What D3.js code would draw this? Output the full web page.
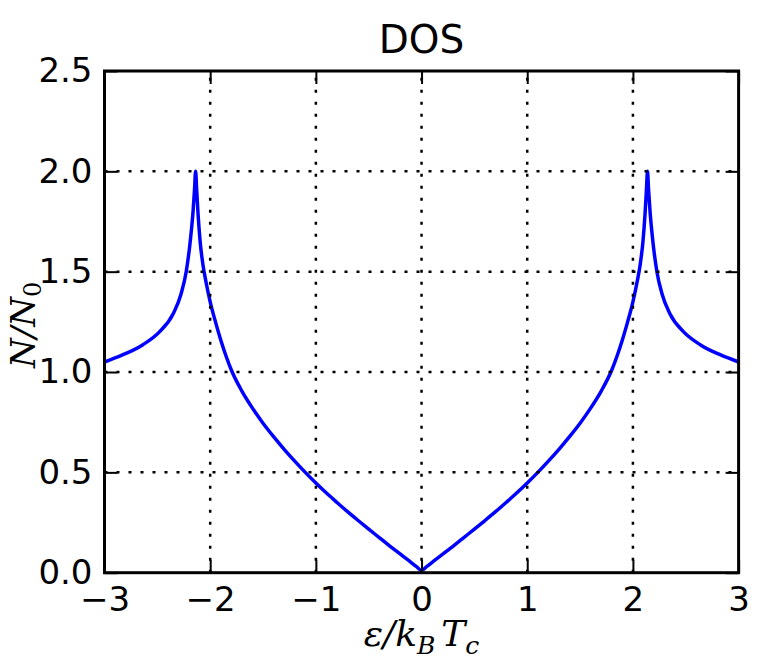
<!DOCTYPE html>
<html><head><meta charset="utf-8">
<script src="https://cdn.jsdelivr.net/npm/d3@7"></script>
<style>body{margin:0;background:#fff}</style>
</head><body>
<svg id="c" width="759" height="664"></svg>
<script>
const chartTitle = "DOS";
const xTicks = [-3, -2, -1, 0, 1, 2, 3];
const yTicks = [0, 0.5, 1.0, 1.5, 2.0, 2.5];
// energy in units of k_B T_c
const energy = [-3.0, -2.83, -2.64, -2.48, -2.35, -2.275, -2.227, -2.19, -2.162, -2.148, -2.138, -2.128, -2.115, -2.095, -2.07, -2.04, -2.0, -1.95, -1.9, -1.85, -1.8, -1.7, -1.6, -1.5, -1.4, -1.3, -1.2, -1.1, -1.0, -0.9, -0.8, -0.7, -0.6, -0.5, -0.4, -0.3, -0.2, -0.1, -0.05, 0.0,
  0.05, 0.1, 0.2, 0.3, 0.4, 0.5, 0.6, 0.7, 0.8, 0.9, 1.0, 1.1, 1.2, 1.3, 1.4, 1.5, 1.6, 1.7, 1.8, 1.85, 1.9, 1.95, 2.0, 2.04, 2.07, 2.095, 2.115, 2.128, 2.138, 2.148, 2.162, 2.19, 2.227, 2.275, 2.35, 2.48, 2.64, 2.83, 3.0];
// N/N0
const dos = [1.05, 1.085, 1.135, 1.20, 1.29, 1.39, 1.50, 1.645, 1.80, 1.91, 2.00, 1.91, 1.79, 1.65, 1.54, 1.45, 1.35, 1.25, 1.16, 1.08, 1.01, 0.905, 0.82, 0.745, 0.678, 0.615, 0.556, 0.50, 0.447, 0.397, 0.350, 0.304, 0.260, 0.217, 0.175, 0.133, 0.092, 0.052, 0.031, 0.012,
  0.031, 0.052, 0.092, 0.133, 0.175, 0.217, 0.260, 0.304, 0.350, 0.397, 0.447, 0.50, 0.556, 0.615, 0.678, 0.745, 0.82, 0.905, 1.01, 1.08, 1.16, 1.25, 1.35, 1.45, 1.54, 1.65, 1.79, 1.91, 2.00, 1.91, 1.80, 1.645, 1.50, 1.39, 1.29, 1.20, 1.135, 1.085, 1.05];

const W = 759, H = 664;
const m = {left: 104.5, right: W - 738.6, top: 71, bottom: H - 572.7};
const svg = d3.select("#c");
const x = d3.scaleLinear().domain([-3, 3]).range([m.left, W - m.right]);
const y = d3.scaleLinear().domain([0, 2.5]).range([H - m.bottom, m.top]);

svg.append("defs").append("clipPath").attr("id", "clip")
  .append("rect").attr("x", m.left).attr("y", m.top)
  .attr("width", x(3) - x(-3)).attr("height", y(0) - y(2.5));

const pts = energy.map((e, i) => [e, dos[i]]);
svg.append("path").datum(pts)
  .attr("clip-path", "url(#clip)")
  .attr("fill", "none").attr("stroke", "#0000ff").attr("stroke-width", 3.5)
  .attr("stroke-linejoin", "round")
  .attr("d", d3.line().x(d => x(d[0])).y(d => y(d[1])).curve(d3.curveMonotoneX));

// grid (dotted)
const grid = svg.append("g").attr("stroke", "#000").attr("stroke-width", 2.5)
  .attr("stroke-dasharray", "3,9").attr("fill", "none");
xTicks.slice(1, -1).forEach(t => grid.append("line")
  .attr("x1", x(t)).attr("x2", x(t)).attr("y1", y(0)).attr("y2", y(2.5)));
yTicks.slice(1, -1).forEach(t => grid.append("line")
  .attr("x1", x(-3)).attr("x2", x(3)).attr("y1", y(t)).attr("y2", y(t)));

const fmtX = d3.format("d"), fmtY = d3.format(".1f");
function style(g) {
  g.select(".domain").remove();
  g.selectAll(".tick line").attr("stroke", "#000").attr("stroke-width", 2);
  g.selectAll("text").attr("fill", "#000")
    .style("font-family", "'DejaVu Sans'").style("font-size", "34px");
}
svg.append("g").attr("transform", `translate(0,${y(0)})`)
  .call(d3.axisBottom(x).tickValues(xTicks).tickFormat(fmtX).tickSizeInner(-13).tickSizeOuter(0).tickPadding(14))
  .call(style);
svg.append("g").attr("transform", `translate(0,${y(2.5)})`)
  .call(d3.axisTop(x).tickValues(xTicks).tickFormat("").tickSizeInner(-13).tickSizeOuter(0))
  .call(style);
svg.append("g").attr("transform", `translate(${x(-3)},0)`)
  .call(d3.axisLeft(y).tickValues(yTicks).tickFormat(fmtY).tickSizeInner(-13).tickSizeOuter(0).tickPadding(12))
  .call(style);
svg.append("g").attr("transform", `translate(${x(3)},0)`)
  .call(d3.axisRight(y).tickValues(yTicks).tickFormat("").tickSizeInner(-13).tickSizeOuter(0))
  .call(style);

// frame
svg.append("rect").attr("x", x(-3)).attr("y", y(2.5))
  .attr("width", x(3) - x(-3)).attr("height", y(0) - y(2.5))
  .attr("fill", "none").attr("stroke", "#000").attr("stroke-width", 3);

// title
svg.append("text").attr("x", (x(-3) + x(3)) / 2).attr("y", 53)
  .attr("text-anchor", "middle").style("font-family", "'DejaVu Sans'").style("font-size", "39px")
  .text(chartTitle);

// x label
const xl = svg.append("text").attr("x", (x(-3) + x(3)) / 2).attr("y", 646)
  .attr("text-anchor", "middle").style("font-family", "'DejaVu Serif'").style("font-style", "italic")
  .style("font-size", "36px");
xl.append("tspan").text("ε/k");
xl.append("tspan").attr("dy", 8).style("font-size", "25px").text("B");
xl.append("tspan").attr("dy", -8).attr("dx", 6).text("T");
xl.append("tspan").attr("dy", 8).style("font-size", "25px").text("c");

// y label
const yl = svg.append("text").attr("transform", `translate(35,${(y(0) + y(2.5)) / 2 + 3}) rotate(-90)`)
  .attr("text-anchor", "middle").style("font-family", "'DejaVu Serif'").style("font-style", "italic")
  .style("font-size", "34px");
yl.append("tspan").text("N/N");
yl.append("tspan").attr("dy", 6).style("font-size", "24px").style("font-style", "normal").text("0");
</script>
</body></html>
